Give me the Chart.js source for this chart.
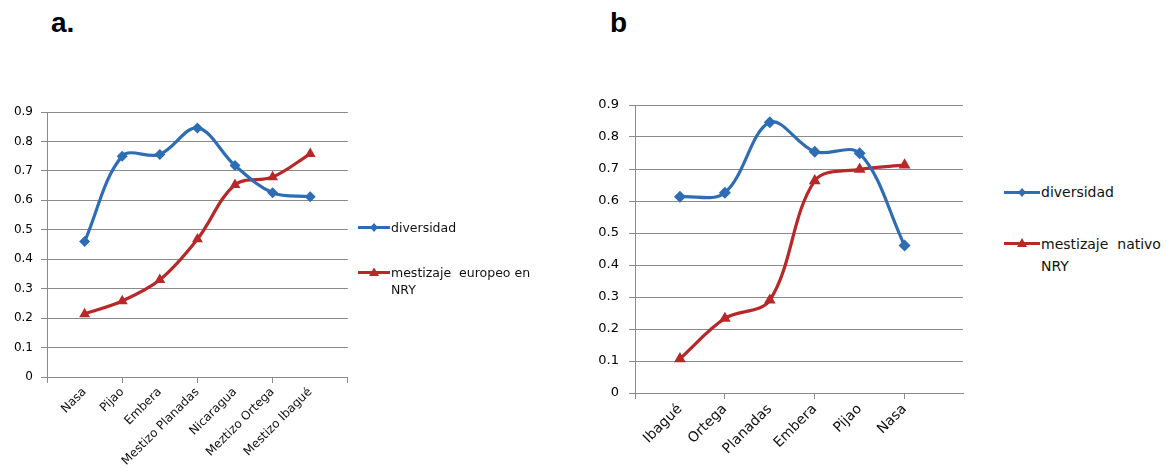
<!DOCTYPE html>
<html><head><meta charset="utf-8">
<script src="https://cdn.jsdelivr.net/npm/chart.js@4.4.1/dist/chart.umd.min.js"></script>
<style>
html,body{margin:0;padding:0;background:#fff;width:1167px;height:472px;overflow:hidden;position:relative;font-family:"DejaVu Sans",sans-serif;}
canvas{position:absolute;}
.title{position:absolute;font-family:"Liberation Sans",Arial,sans-serif;font-weight:bold;font-size:28px;color:#000;line-height:1;}
.leg{position:absolute;display:flex;align-items:flex-start;color:#111;font-family:"DejaVu Sans",sans-serif;}
.leg svg{flex:none;}
</style></head>
<body>
<div class="title" style="left:51px;top:9px;">a.</div>
<div class="title" style="left:610px;top:9px;">b</div>
<canvas id="cA" width="360" height="472" style="left:0;top:0;"></canvas>
<canvas id="cB" width="420" height="472" style="left:560px;top:0;"></canvas>

<div class="leg" style="left:357px;top:219px;font-size:12.5px;line-height:17px;">
 <svg width="34" height="17"><line x1="1" y1="8.5" x2="33" y2="8.5" stroke="#2E6DB4" stroke-width="3"/><polygon points="17,4 21,8.5 17,13 13,8.5" fill="#2E6DB4"/></svg>
 <span>diversidad</span></div>
<div class="leg" style="left:357px;top:264px;font-size:12.5px;line-height:17px;">
 <svg width="34" height="17"><line x1="1" y1="8.5" x2="33" y2="8.5" stroke="#B82828" stroke-width="3"/><polygon points="17,3.5 22,12 12,12" fill="#B82828"/></svg>
 <span style="width:140px;">mestizaje &nbsp;europeo en<br>NRY</span></div>

<div class="leg" style="left:1003px;top:182px;font-size:14px;line-height:21px;">
 <svg width="38" height="21"><line x1="1" y1="10.5" x2="37" y2="10.5" stroke="#2E6DB4" stroke-width="3"/><polygon points="19,6 23,10.5 19,15 15,10.5" fill="#2E6DB4"/></svg>
 <span>diversidad</span></div>
<div class="leg" style="left:1003px;top:233px;font-size:14px;line-height:22px;">
 <svg width="38" height="21"><line x1="1" y1="10.5" x2="37" y2="10.5" stroke="#B82828" stroke-width="3"/><polygon points="19,5 24,14 14,14" fill="#B82828"/></svg>
 <span>mestizaje &nbsp;nativo<br>NRY</span></div>

<script>
// ---- data ----
const catsA = ['Nasa','Pijao','Embera','Mestizo Planadas','Nicaragua','Meztizo Ortega','Mestizo Ibagué'];
const divA  = [0.46, 0.75, 0.756, 0.846, 0.718, 0.626, 0.612];
const mestA = [0.214, 0.258, 0.33, 0.468, 0.653, 0.679, 0.758];

const catsB = ['Ibagué','Ortega','Planadas','Embera','Pijao','Nasa'];
const divB  = [0.613, 0.626, 0.846, 0.754, 0.749, 0.461];
const mestB = [0.107, 0.233, 0.29, 0.663, 0.699, 0.712];

const yTicks = [0,0.1,0.2,0.3,0.4,0.5,0.6,0.7,0.8,0.9];

const BLUE = '#2E6DB4', RED = '#B82828', GRID = '#8a8a8a';

function makeChart(id, cats, div, mest, o) {
  const pts = arr => arr.map((v,i)=>({x:i+1, y:v}));
  return new Chart(document.getElementById(id), {
    type: 'line',
    data: { datasets: [
      { label:'diversidad', data: pts(div), borderColor: BLUE, backgroundColor: BLUE,
        borderWidth: 3.2, pointStyle:'rectRot', pointRadius: o.pr, pointBorderWidth:0, tension: 0.35 },
      { label:'mestizaje', data: pts(mest), borderColor: RED, backgroundColor: RED,
        borderWidth: 3.2, pointStyle:'triangle', pointRadius: o.pr+0.8, pointBorderWidth:0, tension: 0.35 }
    ]},
    options: {
      responsive: false, animation: false, devicePixelRatio: 1,
      layout: { padding: { left: 0, top: o.top, right: o.right, bottom: 0 } },
      plugins: { legend: { display: false }, tooltip: { enabled: false } },
      scales: {
        x: {
          type: 'linear', min: 0, max: o.xmax,
          afterBuildTicks: s => { const t=[]; for (let i=0;i<=Math.floor(o.xmax);i++) t.push({value:i}); s.ticks = t; },
          afterFit: s => { s.height = o.xh; },
          grid: { drawOnChartArea: false, drawTicks: true, tickLength: 6,
                  tickColor: c => (c.tick && c.tick.value % 2 === 0) ? GRID : 'rgba(0,0,0,0)',
                  color: 'rgba(0,0,0,0)' },
          border: { display: true, color: GRID, width: 1 },
          ticks: { autoSkip: false, minRotation: 45, maxRotation: 45, padding: 2,
                   color: '#111', font: { family: 'DejaVu Sans', size: o.xf },
                   callback: v => (v>=1 && v<=cats.length) ? cats[v-1] : '' }
        },
        y: {
          min: 0, max: 0.9,
          afterBuildTicks: s => { s.ticks = yTicks.map(v=>({value:v})); },
          afterFit: s => { s.width = o.yw; },
          grid: { color: GRID, lineWidth: 1, drawTicks: true, tickLength: 6, tickColor: GRID },
          border: { display: true, color: GRID, width: 1 },
          ticks: { padding: o.yp, color: '#000', font: { family: 'DejaVu Sans', size: o.yf },
                   callback: v => String(Math.round(v*10)/10) }
        }
      }
    }
  });
}

makeChart('cA', catsA, divA, mestA, { top: 112, right: 12, xh: 95, yw: 47, xmax: 8, xf: 12, yf: 12, yp: 8, pr: 5.5 });
makeChart('cB', catsB, divB, mestB, { top: 105, right: 17, xh: 79, yw: 75, xmax: 7.3, xf: 14, yf: 13, yp: 10, pr: 6 });
</script>
</body></html>
